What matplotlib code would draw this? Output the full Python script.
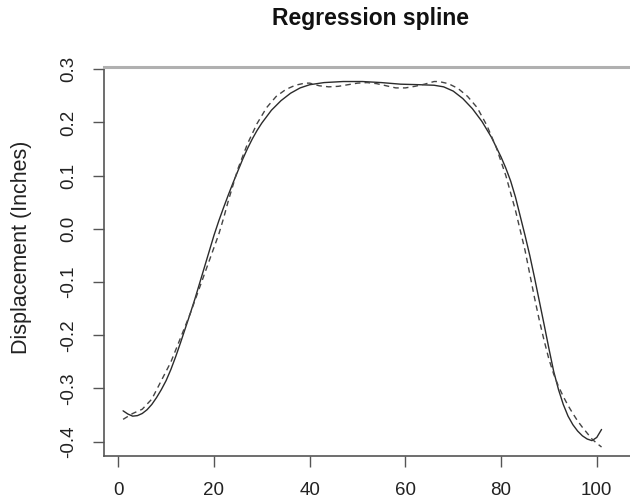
import matplotlib
matplotlib.use("Agg")
import matplotlib.pyplot as plt

# --- data ---
fit_x = [1, 2, 3, 4, 5, 6, 7, 8, 9, 10, 11, 12, 13, 14, 15, 16, 17, 18, 19, 20,
         21, 22, 23, 24, 25, 26, 27, 28, 29, 30, 32, 34, 36, 38, 40, 43, 47, 51,
         55, 59, 63, 66, 68, 70, 72, 74, 76, 78, 80, 81, 82, 83, 84, 85, 86, 87,
         88, 89, 90, 91, 92, 93, 94, 95, 96, 97, 98, 99, 100, 101]
fit_y = [-0.342, -0.348, -0.352, -0.351, -0.347, -0.340, -0.330, -0.317, -0.302,
         -0.285, -0.264, -0.240, -0.214, -0.187, -0.160, -0.132, -0.102, -0.072,
         -0.042, -0.012, 0.015, 0.040, 0.064, 0.087, 0.109, 0.131, 0.151, 0.169,
         0.185, 0.199, 0.223, 0.241, 0.255, 0.265, 0.271, 0.275, 0.277, 0.277,
         0.275, 0.272, 0.271, 0.270, 0.267, 0.259, 0.245, 0.226, 0.202, 0.172,
         0.135, 0.114, 0.090, 0.060, 0.024, -0.012, -0.050, -0.092, -0.136,
         -0.180, -0.225, -0.268, -0.302, -0.330, -0.352, -0.368, -0.380, -0.389,
         -0.395, -0.398, -0.392, -0.377]

raw_x = [1, 3, 5, 7, 9, 11, 13, 15, 17, 19, 21, 22, 23, 25, 27, 29, 31, 33, 35,
         37, 39, 40, 42, 44, 46, 48, 50, 52, 54, 56, 58, 60, 62, 64, 66, 67, 69,
         71, 73, 75, 77, 79, 81, 83, 85, 86, 87, 88, 89, 90, 91, 92, 93, 94, 95,
         96, 97, 98, 99, 100, 101]
raw_y = [-0.358, -0.347, -0.339, -0.320, -0.285, -0.250, -0.205, -0.160, -0.110,
         -0.060, -0.010, 0.020, 0.053, 0.113, 0.160, 0.198, 0.228, 0.249, 0.262,
         0.270, 0.274, 0.274, 0.269, 0.267, 0.268, 0.271, 0.274, 0.275, 0.273,
         0.269, 0.265, 0.265, 0.268, 0.272, 0.277, 0.277, 0.273, 0.264, 0.249,
         0.228, 0.195, 0.153, 0.100, 0.035, -0.040, -0.085, -0.130, -0.172,
         -0.210, -0.245, -0.273, -0.296, -0.315, -0.332, -0.347, -0.361, -0.373,
         -0.384, -0.395, -0.403, -0.410]

x_ticks = [0, 20, 40, 60, 80, 100]
y_ticks = [-0.4, -0.3, -0.2, -0.1, 0.0, 0.1, 0.2, 0.3]
y_tick_labels = ["-0.4", "-0.3", "-0.2", "-0.1", "0.0", "0.1", "0.2", "0.3"]

title = "Regression spline"
ylabel = "Displacement (Inches)"

plt.rcParams['font.family'] = ['Liberation Sans', 'DejaVu Sans']

W, H = 630, 504
fig = plt.figure(figsize=(W / 100, H / 100), dpi=100)
left, right, bottom, top = 104, 636, 456, 67
ax = fig.add_axes([left / W, 1 - bottom / H, (right - left) / W, (bottom - top) / H])

ax.plot(fit_x, fit_y, color="#2b2b2b", lw=1.0, solid_joinstyle="round",
        solid_capstyle="round")
ax.plot(raw_x, raw_y, color="#444444", lw=1.0, dashes=(4, 3),
        dash_joinstyle="round")

ax.set_xlim(-2.99, 108.2)
ax.set_ylim(-0.4269, 0.3043)

ax.set_xticks(x_ticks)
ax.set_xticklabels([str(t) for t in x_ticks])
ax.set_yticks(y_ticks)
ax.set_yticklabels(y_tick_labels, rotation=90, va="center")

ax.tick_params(axis="both", direction="out", length=8, width=1.0,
               color="#555555", labelcolor="#222222", labelsize=13.5)
ax.tick_params(axis="x", pad=11)
ax.tick_params(axis="y", pad=11)

for s in ["left", "bottom"]:
    ax.spines[s].set_color("#555555")
    ax.spines[s].set_linewidth(1.2)
ax.spines["top"].set_color("#b0b0b0")
ax.spines["top"].set_linewidth(2.2)
ax.spines["right"].set_visible(False)

fig.text(370 / W, 1 - 18 / H, title, ha="center", va="center",
         fontsize=16.5, fontweight="bold", color="#111111")
fig.text(22 / W, 1 - 247 / H, ylabel, ha="center", va="center",
         rotation=90, fontsize=15.5, color="#222222")

fig.savefig("out.png", dpi=100)
